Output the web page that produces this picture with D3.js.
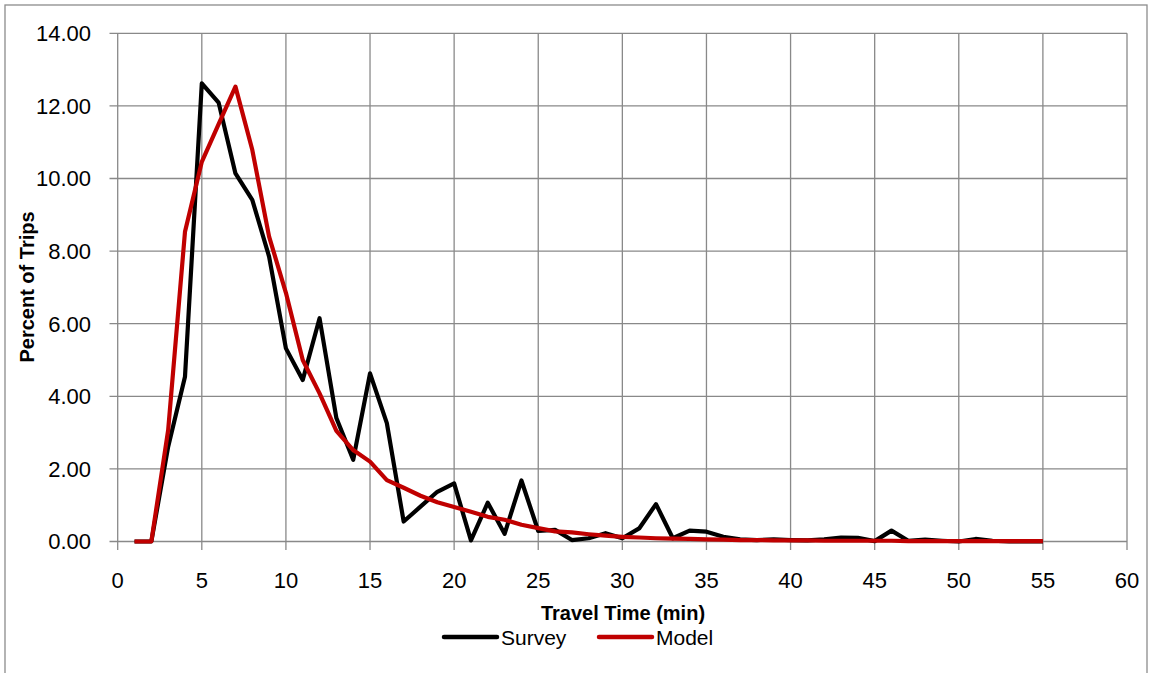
<!DOCTYPE html>
<html><head><meta charset="utf-8">
<script src="https://cdn.jsdelivr.net/npm/d3@7"></script>
<style>body{margin:0;background:#fff;} text{font-family:"Liberation Sans","DejaVu Sans",sans-serif;}</style>
</head><body>
<svg id="c" width="1151" height="673"></svg>
<script>
const minutes = d3.range(1, 56);
const survey = [0,0,2.61,4.54,12.62,12.09,10.14,9.41,7.85,5.32,4.45,6.15,3.40,2.25,4.63,3.26,0.55,0.96,1.37,1.60,0.03,1.07,0.21,1.68,0.29,0.32,0.04,0.09,0.23,0.09,0.36,1.03,0.09,0.30,0.27,0.13,0.06,0.04,0.06,0.04,0.03,0.06,0.11,0.10,0.01,0.30,0.02,0.05,0.02,0.00,0.07,0.02,0.00,0.00,0.00];
const model = [0,0,3.07,8.53,10.46,11.50,12.53,10.79,8.40,6.85,5.00,4.08,3.05,2.52,2.20,1.69,1.48,1.26,1.08,0.95,0.82,0.68,0.60,0.46,0.37,0.28,0.25,0.20,0.16,0.13,0.11,0.09,0.08,0.07,0.06,0.05,0.04,0.04,0.03,0.03,0.03,0.02,0.02,0.02,0.02,0.02,0.01,0.01,0.01,0.01,0.01,0.01,0.01,0.01,0.01];
const xTicks = d3.range(0, 61, 5);
const yTicks = d3.range(0, 15, 2);
const seriesNames = ["Survey", "Model"];
const colors = ["#000000", "#C00000"];

const svg = d3.select("#c");
svg.append("rect").attr("x",5).attr("y",5).attr("width",1142).attr("height",700)
  .attr("fill","none").attr("stroke","#8c8c8c").attr("stroke-width",1.3);

const x = d3.scaleLinear().domain([0,60]).range([117.7,1127]);
const y = d3.scaleLinear().domain([0,14]).range([541.5,33.3]);
const grid = "#898989";

svg.append("g").selectAll("line").data(yTicks).join("line")
  .attr("x1", 109.5).attr("x2", x(60)).attr("y1", d=>y(d)).attr("y2", d=>y(d))
  .attr("stroke", grid).attr("stroke-width",1.3);
svg.append("g").selectAll("line").data(xTicks).join("line")
  .attr("y1", y(14)).attr("y2", 550).attr("x1", d=>x(d)).attr("x2", d=>x(d))
  .attr("stroke", grid).attr("stroke-width",1.3);

svg.append("g").selectAll("text").data(yTicks).join("text")
  .attr("x", 91).attr("y", d=>y(d)).attr("dy","0.36em").attr("text-anchor","end")
  .attr("font-size",22).attr("fill","#000").text(d=>d.toFixed(2));
svg.append("g").selectAll("text").data(xTicks).join("text")
  .attr("x", d=>x(d)).attr("y", 588).attr("text-anchor","middle")
  .attr("font-size",22).attr("fill","#000").text(d=>d);

const line = d3.line().x((d,i)=>x(minutes[i])).y(d=>y(d));
[survey, model].forEach((s,k)=>{
  svg.append("path").datum(s).attr("d", line).attr("fill","none")
    .attr("stroke", colors[k]).attr("stroke-width",4.2).attr("stroke-linejoin","round");
});

svg.append("text").attr("transform","translate(34,287) rotate(-90)").attr("text-anchor","middle")
  .attr("font-size",20).attr("font-weight","bold").text("Percent of Trips");
svg.append("text").attr("x",623).attr("y",620).attr("text-anchor","middle")
  .attr("font-size",20).attr("font-weight","bold").text("Travel Time (min)");

const leg = [{x1:444,x2:497,tx:501},{x1:599,x2:652,tx:656}];
leg.forEach((l,k)=>{
  svg.append("line").attr("x1",l.x1).attr("x2",l.x2).attr("y1",637).attr("y2",637)
    .attr("stroke",colors[k]).attr("stroke-width",4.5).attr("stroke-linecap","round");
  svg.append("text").attr("x",l.tx).attr("y",645).attr("font-size",21).text(seriesNames[k]);
});
</script>
</body></html>
